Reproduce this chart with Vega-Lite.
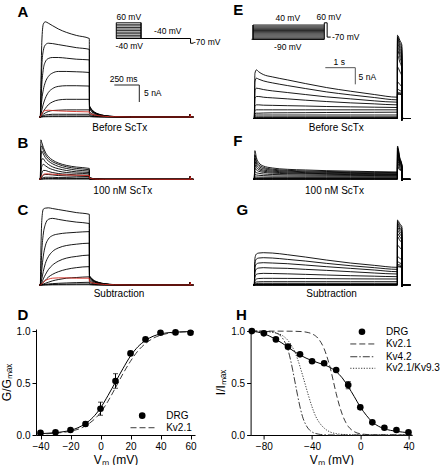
{
"$schema":"https://vega.github.io/schema/vega-lite/v6.json",
"background":"white",
"padding":{"left":0,"top":0,"right":0,"bottom":0},
"config":{"font":"Liberation Sans","view":{"stroke":null},
"axis":{"grid":false,"domainColor":"#000","tickColor":"#000","labelColor":"#000","titleColor":"#000","labelFontSize":10,"titleFontSize":12,"titleFontWeight":"normal","tickSize":4,"labelPadding":2,"titlePadding":3,"domainWidth":1,"tickWidth":1},
"text":{"color":"#000"}},
"datasets":{
"A":[
{"t":-10,"s1":0,"s2":0,"s3":0,"s4":0,"s5":0,"s6":0,"s7":0,"s8":0,"s9":0,"s10":0,"s11":0},
{"t":0,"s1":0,"s2":0,"s3":0,"s4":0,"s5":0,"s6":0,"s7":0,"s8":0,"s9":0,"s10":0,"s11":0},
{"t":6,"s1":9,"s2":6,"s3":4,"s4":2,"s5":0.8,"s6":0.3,"s7":0.1,"s8":0.05,"s9":0.02,"s10":0,"s11":0.4},
{"t":15,"s1":22,"s2":15,"s3":9.5,"s4":5,"s5":2,"s6":0.8,"s7":0.4,"s8":0.2,"s9":0.08,"s10":0.02,"s11":1.0},
{"t":30,"s1":27.3,"s2":19.5,"s3":14,"s4":8,"s5":3.8,"s6":1.6,"s7":0.8,"s8":0.4,"s9":0.15,"s10":0.05,"s11":1.6},
{"t":50,"s1":28,"s2":21.2,"s3":16.2,"s4":10.2,"s5":5.5,"s6":2.5,"s7":1.2,"s8":0.6,"s9":0.22,"s10":0.07,"s11":1.9},
{"t":80,"s1":27.6,"s2":21.7,"s3":17.2,"s4":11.9,"s5":7.2,"s6":3.6,"s7":1.6,"s8":0.7,"s9":0.28,"s10":0.09,"s11":2.0},
{"t":120,"s1":26.9,"s2":21.6,"s3":17.5,"s4":12.9,"s5":8.3,"s6":4.4,"s7":1.9,"s8":0.8,"s9":0.3,"s10":0.1,"s11":1.9},
{"t":180,"s1":25.9,"s2":21.3,"s3":17.5,"s4":13.4,"s5":9.0,"s6":5.0,"s7":2.0,"s8":0.8,"s9":0.3,"s10":0.1,"s11":1.8},
{"t":260,"s1":24.9,"s2":20.9,"s3":17.3,"s4":13.4,"s5":9.2,"s6":5.2,"s7":2.1,"s8":0.8,"s9":0.3,"s10":0.1,"s11":1.7},
{"t":360,"s1":24.0,"s2":20.4,"s3":17.0,"s4":13.3,"s5":9.2,"s6":5.2,"s7":2.1,"s8":0.8,"s9":0.3,"s10":0.1,"s11":1.6},
{"t":490,"s1":23.1,"s2":19.9,"s3":16.8,"s4":13.1,"s5":9.1,"s6":5.2,"s7":2.1,"s8":0.8,"s9":0.3,"s10":0.1,"s11":1.5},
{"t":492,"s1":3.4,"s2":3.2,"s3":3.0,"s4":2.7,"s5":2.3,"s6":1.6,"s7":1.0,"s8":0.5,"s9":0.25,"s10":0.1,"s11":1.2},
{"t":500,"s1":2.9,"s2":2.7,"s3":2.5,"s4":2.3,"s5":1.9,"s6":1.3,"s7":0.8,"s8":0.4,"s9":0.2,"s10":0.08,"s11":1.0},
{"t":515,"s1":2.2,"s2":2.1,"s3":1.9,"s4":1.7,"s5":1.5,"s6":1.0,"s7":0.6,"s8":0.3,"s9":0.15,"s10":0.06,"s11":0.8},
{"t":540,"s1":1.5,"s2":1.4,"s3":1.3,"s4":1.2,"s5":1.0,"s6":0.7,"s7":0.4,"s8":0.2,"s9":0.1,"s10":0.04,"s11":0.6},
{"t":580,"s1":0.9,"s2":0.85,"s3":0.8,"s4":0.7,"s5":0.6,"s6":0.4,"s7":0.25,"s8":0.12,"s9":0.06,"s10":0.02,"s11":0.4},
{"t":640,"s1":0.45,"s2":0.4,"s3":0.38,"s4":0.33,"s5":0.3,"s6":0.2,"s7":0.12,"s8":0.06,"s9":0.03,"s10":0.01,"s11":0.2},
{"t":740,"s1":0.15,"s2":0.13,"s3":0.12,"s4":0.1,"s5":0.1,"s6":0.06,"s7":0.04,"s8":0.02,"s9":0,"s10":0,"s11":0.07},
{"t":900,"s1":0,"s2":0,"s3":0,"s4":0,"s5":0,"s6":0,"s7":0,"s8":0,"s9":0,"s10":0,"s11":0},
{"t":1497,"s1":0,"s2":0,"s3":0,"s4":0,"s5":0,"s6":0,"s7":0,"s8":0,"s9":0,"s10":0,"s11":0},
{"t":1500,"s1":0.8,"s2":0.8,"s3":0.8,"s4":0.8,"s5":0.8,"s6":0.8,"s7":0.8,"s8":0.8,"s9":0.8,"s10":0.8,"s11":0.8},
{"t":1503,"s1":0,"s2":0,"s3":0,"s4":0,"s5":0,"s6":0,"s7":0,"s8":0,"s9":0,"s10":0,"s11":0},
{"t":1530,"s1":0,"s2":0,"s3":0,"s4":0,"s5":0,"s6":0,"s7":0,"s8":0,"s9":0,"s10":0,"s11":0}],
"B":[
{"t":-10,"s1":0,"s2":0,"s3":0,"s4":0,"s5":0,"s6":0,"s7":0,"s8":0,"s9":0,"s10":0,"s11":0},
{"t":0,"s1":0,"s2":0,"s3":0,"s4":0,"s5":0,"s6":0,"s7":0,"s8":0,"s9":0,"s10":0,"s11":0},
{"t":6,"s1":11.6,"s2":9.5,"s3":6,"s4":3.5,"s5":1.8,"s6":0.8,"s7":0.3,"s8":0.1,"s9":0.05,"s10":0,"s11":0.5},
{"t":15,"s1":10.8,"s2":9.8,"s3":8.3,"s4":6.0,"s5":3.8,"s6":1.8,"s7":0.7,"s8":0.3,"s9":0.1,"s10":0.03,"s11":1.0},
{"t":30,"s1":9.4,"s2":8.5,"s3":7.5,"s4":6.0,"s5":4.4,"s6":2.6,"s7":1.2,"s8":0.5,"s9":0.2,"s10":0.05,"s11":1.4},
{"t":50,"s1":8.0,"s2":7.3,"s3":6.4,"s4":5.2,"s5":4.0,"s6":2.6,"s7":1.4,"s8":0.6,"s9":0.25,"s10":0.07,"s11":1.6},
{"t":80,"s1":6.7,"s2":6.1,"s3":5.4,"s4":4.4,"s5":3.4,"s6":2.3,"s7":1.4,"s8":0.6,"s9":0.25,"s10":0.08,"s11":1.6},
{"t":120,"s1":5.7,"s2":5.2,"s3":4.6,"s4":3.7,"s5":2.9,"s6":2.0,"s7":1.3,"s8":0.6,"s9":0.25,"s10":0.08,"s11":1.5},
{"t":180,"s1":4.8,"s2":4.4,"s3":3.8,"s4":3.1,"s5":2.4,"s6":1.7,"s7":1.1,"s8":0.5,"s9":0.2,"s10":0.08,"s11":1.4},
{"t":260,"s1":4.1,"s2":3.7,"s3":3.2,"s4":2.6,"s5":2.0,"s6":1.5,"s7":1.0,"s8":0.5,"s9":0.2,"s10":0.08,"s11":1.3},
{"t":360,"s1":3.6,"s2":3.2,"s3":2.7,"s4":2.2,"s5":1.8,"s6":1.3,"s7":0.9,"s8":0.4,"s9":0.2,"s10":0.08,"s11":1.2},
{"t":490,"s1":3.2,"s2":2.8,"s3":2.4,"s4":2.0,"s5":1.6,"s6":1.2,"s7":0.8,"s8":0.4,"s9":0.2,"s10":0.08,"s11":1.1},
{"t":492,"s1":0.6,"s2":0.5,"s3":0.45,"s4":0.4,"s5":0.3,"s6":0.2,"s7":0.15,"s8":0.08,"s9":0.04,"s10":0.02,"s11":0.3},
{"t":500,"s1":0.45,"s2":0.4,"s3":0.35,"s4":0.3,"s5":0.25,"s6":0.15,"s7":0.1,"s8":0.06,"s9":0.03,"s10":0.01,"s11":0.25},
{"t":515,"s1":0.3,"s2":0.27,"s3":0.24,"s4":0.2,"s5":0.16,"s6":0.1,"s7":0.07,"s8":0.04,"s9":0.02,"s10":0,"s11":0.15},
{"t":540,"s1":0.15,"s2":0.13,"s3":0.12,"s4":0.1,"s5":0.08,"s6":0.05,"s7":0.03,"s8":0.02,"s9":0,"s10":0,"s11":0.08},
{"t":580,"s1":0.06,"s2":0.05,"s3":0.05,"s4":0.04,"s5":0.03,"s6":0.02,"s7":0.01,"s8":0,"s9":0,"s10":0,"s11":0.03},
{"t":640,"s1":0,"s2":0,"s3":0,"s4":0,"s5":0,"s6":0,"s7":0,"s8":0,"s9":0,"s10":0,"s11":0},
{"t":1497,"s1":0,"s2":0,"s3":0,"s4":0,"s5":0,"s6":0,"s7":0,"s8":0,"s9":0,"s10":0,"s11":0},
{"t":1500,"s1":0.8,"s2":0.8,"s3":0.8,"s4":0.8,"s5":0.8,"s6":0.8,"s7":0.8,"s8":0.8,"s9":0.8,"s10":0.8,"s11":0.8},
{"t":1503,"s1":0,"s2":0,"s3":0,"s4":0,"s5":0,"s6":0,"s7":0,"s8":0,"s9":0,"s10":0,"s11":0},
{"t":1530,"s1":0,"s2":0,"s3":0,"s4":0,"s5":0,"s6":0,"s7":0,"s8":0,"s9":0,"s10":0,"s11":0}],
"C":[
{"t":-10,"s1":0,"s2":0,"s3":0,"s4":0,"s5":0,"s6":0,"s7":0,"s8":0,"s9":0,"s10":0,"s11":0},
{"t":0,"s1":0,"s2":0,"s3":0,"s4":0,"s5":0,"s6":0,"s7":0,"s8":0,"s9":0,"s10":0,"s11":0},
{"t":6,"s1":10,"s2":4,"s3":1.5,"s4":0.5,"s5":0.2,"s6":0.05,"s7":0,"s8":0,"s9":0,"s10":0,"s11":0.05},
{"t":15,"s1":19,"s2":10,"s3":4.5,"s4":1.8,"s5":0.7,"s6":0.3,"s7":0.1,"s8":0.03,"s9":0.01,"s10":0,"s11":0.3},
{"t":30,"s1":22.3,"s2":15,"s3":8.5,"s4":4,"s5":1.8,"s6":0.8,"s7":0.3,"s8":0.1,"s9":0.03,"s10":0.01,"s11":0.8},
{"t":50,"s1":22.6,"s2":17.8,"s3":11.5,"s4":6.3,"s5":3.0,"s6":1.4,"s7":0.5,"s8":0.2,"s9":0.06,"s10":0.02,"s11":1.3},
{"t":80,"s1":22.7,"s2":19.3,"s3":13.5,"s4":8.3,"s5":4.5,"s6":2.3,"s7":0.8,"s8":0.3,"s9":0.1,"s10":0.03,"s11":1.7},
{"t":120,"s1":22.5,"s2":19.6,"s3":14.5,"s4":9.8,"s5":5.8,"s6":3.1,"s7":1.2,"s8":0.4,"s9":0.15,"s10":0.04,"s11":2.0},
{"t":180,"s1":22.2,"s2":19.3,"s3":15.0,"s4":10.9,"s5":7.0,"s6":3.9,"s7":1.6,"s8":0.5,"s9":0.2,"s10":0.05,"s11":2.1},
{"t":260,"s1":21.8,"s2":18.9,"s3":15.3,"s4":11.6,"s5":7.9,"s6":4.6,"s7":2.0,"s8":0.6,"s9":0.25,"s10":0.06,"s11":2.1},
{"t":360,"s1":21.3,"s2":18.5,"s3":15.5,"s4":12.0,"s5":8.4,"s6":5.1,"s7":2.2,"s8":0.7,"s9":0.3,"s10":0.07,"s11":2.0},
{"t":490,"s1":20.8,"s2":18.1,"s3":15.7,"s4":12.3,"s5":8.8,"s6":5.4,"s7":2.4,"s8":0.8,"s9":0.3,"s10":0.08,"s11":2.0},
{"t":492,"s1":2.8,"s2":2.7,"s3":2.5,"s4":2.2,"s5":1.8,"s6":1.3,"s7":0.8,"s8":0.4,"s9":0.2,"s10":0.05,"s11":1.0},
{"t":500,"s1":2.4,"s2":2.3,"s3":2.1,"s4":1.9,"s5":1.5,"s6":1.1,"s7":0.65,"s8":0.32,"s9":0.16,"s10":0.04,"s11":0.85},
{"t":515,"s1":1.9,"s2":1.8,"s3":1.65,"s4":1.5,"s5":1.2,"s6":0.85,"s7":0.5,"s8":0.25,"s9":0.12,"s10":0.03,"s11":0.65},
{"t":540,"s1":1.3,"s2":1.2,"s3":1.1,"s4":1.0,"s5":0.85,"s6":0.6,"s7":0.35,"s8":0.17,"s9":0.08,"s10":0.02,"s11":0.5},
{"t":580,"s1":0.8,"s2":0.75,"s3":0.7,"s4":0.62,"s5":0.52,"s6":0.36,"s7":0.22,"s8":0.1,"s9":0.05,"s10":0.01,"s11":0.32},
{"t":640,"s1":0.4,"s2":0.36,"s3":0.33,"s4":0.3,"s5":0.26,"s6":0.18,"s7":0.1,"s8":0.05,"s9":0.02,"s10":0,"s11":0.16},
{"t":740,"s1":0.12,"s2":0.11,"s3":0.1,"s4":0.09,"s5":0.08,"s6":0.05,"s7":0.03,"s8":0.01,"s9":0,"s10":0,"s11":0.05},
{"t":900,"s1":0,"s2":0,"s3":0,"s4":0,"s5":0,"s6":0,"s7":0,"s8":0,"s9":0,"s10":0,"s11":0},
{"t":1497,"s1":0,"s2":0,"s3":0,"s4":0,"s5":0,"s6":0,"s7":0,"s8":0,"s9":0,"s10":0,"s11":0},
{"t":1500,"s1":0.8,"s2":0.8,"s3":0.8,"s4":0.8,"s5":0.8,"s6":0.8,"s7":0.8,"s8":0.8,"s9":0.8,"s10":0.8,"s11":0.8},
{"t":1503,"s1":0,"s2":0,"s3":0,"s4":0,"s5":0,"s6":0,"s7":0,"s8":0,"s9":0,"s10":0,"s11":0},
{"t":1530,"s1":0,"s2":0,"s3":0,"s4":0,"s5":0,"s6":0,"s7":0,"s8":0,"s9":0,"s10":0,"s11":0}],
"E":[
{"t":-0.03,"s1":0,"s2":0,"s3":0,"s4":0,"s5":0,"s6":0,"s7":0,"s8":0,"s9":0,"s10":0,"s11":0,"s12":0,"s13":0,"s14":0},
{"t":0,"s1":0,"s2":0,"s3":0,"s4":0,"s5":0,"s6":0,"s7":0,"s8":0,"s9":0,"s10":0,"s11":0,"s12":0,"s13":0,"s14":0},
{"t":0.02,"s1":13.5,"s2":11.0,"s3":8.4,"s4":6.1,"s5":3.8,"s6":2.4,"s7":1.5,"s8":1.0,"s9":0.5,"s10":0.25,"s11":0.12,"s12":0.05,"s13":0,"s14":0},
{"t":0.07,"s1":14.6,"s2":12.1,"s3":9.1,"s4":6.6,"s5":4.1,"s6":2.6,"s7":1.6,"s8":1.05,"s9":0.5,"s10":0.25,"s11":0.12,"s12":0.05,"s13":0,"s14":0},
{"t":0.15,"s1":14.0,"s2":11.8,"s3":9.0,"s4":6.6,"s5":4.1,"s6":2.6,"s7":1.6,"s8":1.05,"s9":0.5,"s10":0.25,"s11":0.12,"s12":0.05,"s13":0,"s14":0},
{"t":0.3,"s1":13.2,"s2":11.3,"s3":8.7,"s4":6.4,"s5":4.0,"s6":2.6,"s7":1.65,"s8":1.05,"s9":0.5,"s10":0.25,"s11":0.12,"s12":0.05,"s13":0,"s14":0},
{"t":0.6,"s1":12.5,"s2":10.7,"s3":8.3,"s4":6.2,"s5":3.95,"s6":2.6,"s7":1.7,"s8":1.05,"s9":0.5,"s10":0.25,"s11":0.12,"s12":0.05,"s13":0,"s14":0},
{"t":1.1,"s1":11.6,"s2":9.9,"s3":7.8,"s4":5.9,"s5":3.85,"s6":2.6,"s7":1.72,"s8":1.05,"s9":0.5,"s10":0.25,"s11":0.12,"s12":0.05,"s13":0,"s14":0},
{"t":1.7,"s1":10.5,"s2":9.0,"s3":7.2,"s4":5.5,"s5":3.75,"s6":2.6,"s7":1.75,"s8":1.05,"s9":0.5,"s10":0.25,"s11":0.12,"s12":0.05,"s13":0,"s14":0},
{"t":2.4,"s1":9.3,"s2":8.0,"s3":6.5,"s4":5.1,"s5":3.6,"s6":2.6,"s7":1.8,"s8":1.05,"s9":0.5,"s10":0.25,"s11":0.12,"s12":0.05,"s13":0,"s14":0},
{"t":3.2,"s1":8.2,"s2":7.1,"s3":5.9,"s4":4.7,"s5":3.5,"s6":2.6,"s7":1.83,"s8":1.05,"s9":0.5,"s10":0.25,"s11":0.12,"s12":0.05,"s13":0,"s14":0},
{"t":4.0,"s1":7.2,"s2":6.3,"s3":5.3,"s4":4.4,"s5":3.4,"s6":2.6,"s7":1.86,"s8":1.05,"s9":0.5,"s10":0.25,"s11":0.12,"s12":0.05,"s13":0,"s14":0},
{"t":4.77,"s1":6.4,"s2":5.6,"s3":4.9,"s4":4.1,"s5":3.3,"s6":2.6,"s7":1.9,"s8":1.05,"s9":0.5,"s10":0.25,"s11":0.12,"s12":0.05,"s13":0,"s14":0},
{"t":4.772,"s1":7.3,"s2":7.5,"s3":7.9,"s4":8.8,"s5":11,"s6":15.5,"s7":19,"s8":20.5,"s9":21.5,"s10":22.5,"s11":23.3,"s12":24,"s13":24.5,"s14":25},
{"t":4.85,"s1":7.25,"s2":7.4,"s3":7.7,"s4":8.4,"s5":10.2,"s6":14.1,"s7":17.0,"s8":18.3,"s9":19.3,"s10":20.3,"s11":21.2,"s12":22.0,"s13":22.8,"s14":23.5},
{"t":4.92,"s1":7.2,"s2":7.3,"s3":7.5,"s4":8.0,"s5":9.5,"s6":12.6,"s7":15,"s8":16,"s9":17,"s10":18,"s11":19,"s12":20,"s13":21,"s14":22},
{"t":4.922,"s1":-0.5,"s2":-0.5,"s3":-0.5,"s4":-0.5,"s5":-0.5,"s6":-0.5,"s7":-0.5,"s8":-0.5,"s9":-0.5,"s10":-0.5,"s11":-0.5,"s12":-0.5,"s13":-0.5,"s14":-0.5},
{"t":4.94,"s1":-0.2,"s2":-0.2,"s3":-0.2,"s4":-0.2,"s5":-0.2,"s6":-0.2,"s7":-0.2,"s8":-0.2,"s9":-0.2,"s10":-0.2,"s11":-0.2,"s12":-0.2,"s13":-0.2,"s14":-0.2},
{"t":4.97,"s1":0,"s2":0,"s3":0,"s4":0,"s5":0,"s6":0,"s7":0,"s8":0,"s9":0,"s10":0,"s11":0,"s12":0,"s13":0,"s14":0},
{"t":5.2,"s1":0,"s2":0,"s3":0,"s4":0,"s5":0,"s6":0,"s7":0,"s8":0,"s9":0,"s10":0,"s11":0,"s12":0,"s13":0,"s14":0}],
"F":[
{"t":-0.03,"s1":0,"s2":0,"s3":0,"s4":0,"s5":0,"s6":0,"s7":0,"s8":0,"s9":0,"s10":0,"s11":0,"s12":0,"s13":0,"s14":0},
{"t":0,"s1":0,"s2":0,"s3":0,"s4":0,"s5":0,"s6":0,"s7":0,"s8":0,"s9":0,"s10":0,"s11":0,"s12":0,"s13":0,"s14":0},
{"t":0.02,"s1":8.6,"s2":7.3,"s3":6.3,"s4":5.3,"s5":4.3,"s6":3.3,"s7":2.3,"s8":1.4,"s9":0.7,"s10":0.35,"s11":0.2,"s12":0.1,"s13":0.05,"s14":0},
{"t":0.07,"s1":6.5,"s2":5.6,"s3":4.9,"s4":4.2,"s5":3.5,"s6":2.8,"s7":2.0,"s8":1.3,"s9":0.68,"s10":0.35,"s11":0.2,"s12":0.1,"s13":0.05,"s14":0},
{"t":0.15,"s1":5.0,"s2":4.4,"s3":3.9,"s4":3.4,"s5":2.9,"s6":2.4,"s7":1.8,"s8":1.2,"s9":0.66,"s10":0.35,"s11":0.2,"s12":0.1,"s13":0.05,"s14":0},
{"t":0.3,"s1":4.0,"s2":3.6,"s3":3.2,"s4":2.8,"s5":2.45,"s6":2.1,"s7":1.6,"s8":1.1,"s9":0.64,"s10":0.35,"s11":0.2,"s12":0.1,"s13":0.05,"s14":0},
{"t":0.6,"s1":3.4,"s2":3.05,"s3":2.75,"s4":2.45,"s5":2.15,"s6":1.85,"s7":1.45,"s8":1.0,"s9":0.62,"s10":0.35,"s11":0.2,"s12":0.1,"s13":0.05,"s14":0},
{"t":1.1,"s1":3.0,"s2":2.7,"s3":2.45,"s4":2.2,"s5":1.95,"s6":1.7,"s7":1.35,"s8":0.98,"s9":0.61,"s10":0.35,"s11":0.2,"s12":0.1,"s13":0.05,"s14":0},
{"t":1.7,"s1":2.8,"s2":2.5,"s3":2.25,"s4":2.0,"s5":1.8,"s6":1.6,"s7":1.28,"s8":0.95,"s9":0.6,"s10":0.35,"s11":0.2,"s12":0.1,"s13":0.05,"s14":0},
{"t":2.4,"s1":2.6,"s2":2.35,"s3":2.1,"s4":1.9,"s5":1.7,"s6":1.5,"s7":1.22,"s8":0.93,"s9":0.6,"s10":0.35,"s11":0.2,"s12":0.1,"s13":0.05,"s14":0},
{"t":3.2,"s1":2.45,"s2":2.2,"s3":2.0,"s4":1.8,"s5":1.6,"s6":1.42,"s7":1.17,"s8":0.92,"s9":0.6,"s10":0.35,"s11":0.2,"s12":0.1,"s13":0.05,"s14":0},
{"t":4.0,"s1":2.3,"s2":2.1,"s3":1.9,"s4":1.7,"s5":1.5,"s6":1.35,"s7":1.13,"s8":0.9,"s9":0.6,"s10":0.35,"s11":0.2,"s12":0.1,"s13":0.05,"s14":0},
{"t":4.77,"s1":2.2,"s2":2.0,"s3":1.8,"s4":1.6,"s5":1.45,"s6":1.3,"s7":1.1,"s8":0.9,"s9":0.6,"s10":0.35,"s11":0.2,"s12":0.1,"s13":0.05,"s14":0},
{"t":4.772,"s1":3.4,"s2":3.8,"s3":4.3,"s4":4.8,"s5":5.4,"s6":6.0,"s7":6.6,"s8":7.2,"s9":7.7,"s10":8.2,"s11":8.7,"s12":9.2,"s13":9.6,"s14":10.0},
{"t":4.85,"s1":2.8,"s2":3.0,"s3":3.3,"s4":3.6,"s5":4.0,"s6":4.3,"s7":4.6,"s8":4.9,"s9":5.2,"s10":5.4,"s11":5.7,"s12":6.0,"s13":6.2,"s14":6.5},
{"t":4.92,"s1":2.5,"s2":2.6,"s3":2.8,"s4":3.0,"s5":3.2,"s6":3.4,"s7":3.6,"s8":3.7,"s9":3.8,"s10":3.9,"s11":4.0,"s12":4.1,"s13":4.2,"s14":4.3},
{"t":4.922,"s1":-0.3,"s2":-0.3,"s3":-0.3,"s4":-0.3,"s5":-0.3,"s6":-0.3,"s7":-0.3,"s8":-0.3,"s9":-0.3,"s10":-0.3,"s11":-0.3,"s12":-0.3,"s13":-0.3,"s14":-0.3},
{"t":4.94,"s1":-0.1,"s2":-0.1,"s3":-0.1,"s4":-0.1,"s5":-0.1,"s6":-0.1,"s7":-0.1,"s8":-0.1,"s9":-0.1,"s10":-0.1,"s11":-0.1,"s12":-0.1,"s13":-0.1,"s14":-0.1},
{"t":4.97,"s1":0,"s2":0,"s3":0,"s4":0,"s5":0,"s6":0,"s7":0,"s8":0,"s9":0,"s10":0,"s11":0,"s12":0,"s13":0,"s14":0},
{"t":5.2,"s1":0,"s2":0,"s3":0,"s4":0,"s5":0,"s6":0,"s7":0,"s8":0,"s9":0,"s10":0,"s11":0,"s12":0,"s13":0,"s14":0}],
"G":[
{"t":-0.03,"s1":0,"s2":0,"s3":0,"s4":0,"s5":0,"s6":0,"s7":0,"s8":0,"s9":0,"s10":0,"s11":0,"s12":0,"s13":0,"s14":0},
{"t":0,"s1":0,"s2":0,"s3":0,"s4":0,"s5":0,"s6":0,"s7":0,"s8":0,"s9":0,"s10":0,"s11":0,"s12":0,"s13":0,"s14":0},
{"t":0.02,"s1":8.0,"s2":6.5,"s3":5.2,"s4":3.8,"s5":2.4,"s6":1.2,"s7":0.6,"s8":0.3,"s9":0.2,"s10":0.1,"s11":0.05,"s12":0.02,"s13":0,"s14":0},
{"t":0.07,"s1":9.3,"s2":7.8,"s3":6.3,"s4":4.8,"s5":3.2,"s6":1.8,"s7":0.9,"s8":0.45,"s9":0.2,"s10":0.1,"s11":0.05,"s12":0.02,"s13":0,"s14":0},
{"t":0.15,"s1":9.6,"s2":8.1,"s3":6.6,"s4":5.1,"s5":3.4,"s6":1.95,"s7":0.97,"s8":0.5,"s9":0.2,"s10":0.1,"s11":0.05,"s12":0.02,"s13":0,"s14":0},
{"t":0.3,"s1":9.7,"s2":8.2,"s3":6.7,"s4":5.2,"s5":3.5,"s6":2.0,"s7":1.0,"s8":0.5,"s9":0.2,"s10":0.1,"s11":0.05,"s12":0.02,"s13":0,"s14":0},
{"t":0.6,"s1":9.6,"s2":8.1,"s3":6.6,"s4":5.1,"s5":3.45,"s6":2.0,"s7":1.0,"s8":0.5,"s9":0.2,"s10":0.1,"s11":0.05,"s12":0.02,"s13":0,"s14":0},
{"t":1.1,"s1":9.1,"s2":7.7,"s3":6.4,"s4":5.0,"s5":3.35,"s6":1.98,"s7":1.0,"s8":0.5,"s9":0.2,"s10":0.1,"s11":0.05,"s12":0.02,"s13":0,"s14":0},
{"t":1.7,"s1":8.4,"s2":7.2,"s3":6.0,"s4":4.7,"s5":3.2,"s6":1.95,"s7":1.0,"s8":0.5,"s9":0.2,"s10":0.1,"s11":0.05,"s12":0.02,"s13":0,"s14":0},
{"t":2.4,"s1":7.5,"s2":6.5,"s3":5.5,"s4":4.4,"s5":3.0,"s6":1.9,"s7":1.0,"s8":0.5,"s9":0.2,"s10":0.1,"s11":0.05,"s12":0.02,"s13":0,"s14":0},
{"t":3.2,"s1":6.6,"s2":5.8,"s3":5.0,"s4":4.0,"s5":2.8,"s6":1.85,"s7":1.0,"s8":0.5,"s9":0.2,"s10":0.1,"s11":0.05,"s12":0.02,"s13":0,"s14":0},
{"t":4.0,"s1":5.9,"s2":5.2,"s3":4.5,"s4":3.6,"s5":2.65,"s6":1.82,"s7":1.0,"s8":0.5,"s9":0.2,"s10":0.1,"s11":0.05,"s12":0.02,"s13":0,"s14":0},
{"t":4.77,"s1":5.3,"s2":4.7,"s3":4.0,"s4":3.3,"s5":2.5,"s6":1.8,"s7":1.0,"s8":0.5,"s9":0.2,"s10":0.1,"s11":0.05,"s12":0.02,"s13":0,"s14":0},
{"t":4.772,"s1":5.5,"s2":5.8,"s3":6.2,"s4":7.0,"s5":8.5,"s6":12.0,"s7":14.5,"s8":15.5,"s9":16.5,"s10":17.3,"s11":18.0,"s12":18.5,"s13":19.0,"s14":19.5},
{"t":4.85,"s1":5.4,"s2":5.6,"s3":6.0,"s4":6.6,"s5":8.0,"s6":11.2,"s7":13.4,"s8":14.4,"s9":15.3,"s10":16.1,"s11":16.8,"s12":17.3,"s13":17.9,"s14":18.4},
{"t":4.92,"s1":5.3,"s2":5.5,"s3":5.8,"s4":6.3,"s5":7.5,"s6":10.5,"s7":12.5,"s8":13.5,"s9":14.3,"s10":15.0,"s11":15.8,"s12":16.3,"s13":17.0,"s14":17.5},
{"t":4.922,"s1":-0.4,"s2":-0.4,"s3":-0.4,"s4":-0.4,"s5":-0.4,"s6":-0.4,"s7":-0.4,"s8":-0.4,"s9":-0.4,"s10":-0.4,"s11":-0.4,"s12":-0.4,"s13":-0.4,"s14":-0.4},
{"t":4.94,"s1":-0.15,"s2":-0.15,"s3":-0.15,"s4":-0.15,"s5":-0.15,"s6":-0.15,"s7":-0.15,"s8":-0.15,"s9":-0.15,"s10":-0.15,"s11":-0.15,"s12":-0.15,"s13":-0.15,"s14":-0.15},
{"t":4.97,"s1":0,"s2":0,"s3":0,"s4":0,"s5":0,"s6":0,"s7":0,"s8":0,"s9":0,"s10":0,"s11":0,"s12":0,"s13":0,"s14":0},
{"t":5.2,"s1":0,"s2":0,"s3":0,"s4":0,"s5":0,"s6":0,"s7":0,"s8":0,"s9":0,"s10":0,"s11":0,"s12":0,"s13":0,"s14":0}],
"pointsD":[{"vm":-40,"norm":0.022},{"vm":-30,"norm":0.026},{"vm":-20,"norm":0.048},{"vm":-10,"norm":0.106},{"vm":0,"norm":0.253},{"vm":10,"norm":0.519},{"vm":20,"norm":0.785},{"vm":30,"norm":0.92},{"vm":40,"norm":0.984},{"vm":50,"norm":0.987},{"vm":60,"norm":0.984}],
"errD":[{"vm":-10,"norm":0.086,"norm2":0.126},{"vm":0,"norm":0.19,"norm2":0.316},{"vm":10,"norm":0.45,"norm2":0.59},{"vm":20,"norm":0.765,"norm2":0.805}],
"capsD":[{"vm":-10,"norm":0.086},{"vm":-10,"norm":0.126},{"vm":0,"norm":0.19},{"vm":0,"norm":0.316},{"vm":10,"norm":0.45},{"vm":10,"norm":0.59},{"vm":20,"norm":0.765},{"vm":20,"norm":0.805}],
"fitDdrg":[{"vm":-42,"norm":0.012},{"vm":-40,"norm":0.013},{"vm":-35,"norm":0.017},{"vm":-30,"norm":0.022},{"vm":-25,"norm":0.031},{"vm":-20,"norm":0.045},{"vm":-15,"norm":0.07},{"vm":-10,"norm":0.11},{"vm":-5,"norm":0.17},{"vm":0,"norm":0.26},{"vm":5,"norm":0.38},{"vm":10,"norm":0.51},{"vm":15,"norm":0.64},{"vm":20,"norm":0.76},{"vm":25,"norm":0.85},{"vm":30,"norm":0.91},{"vm":35,"norm":0.95},{"vm":40,"norm":0.972},{"vm":45,"norm":0.984},{"vm":50,"norm":0.99},{"vm":55,"norm":0.993},{"vm":60,"norm":0.995},{"vm":62,"norm":0.995}],
"fitDkv21":[{"vm":-42,"norm":0.009},{"vm":-40,"norm":0.01},{"vm":-35,"norm":0.013},{"vm":-30,"norm":0.018},{"vm":-25,"norm":0.025},{"vm":-20,"norm":0.036},{"vm":-15,"norm":0.055},{"vm":-10,"norm":0.088},{"vm":-5,"norm":0.14},{"vm":0,"norm":0.215},{"vm":5,"norm":0.325},{"vm":10,"norm":0.455},{"vm":15,"norm":0.59},{"vm":20,"norm":0.71},{"vm":25,"norm":0.81},{"vm":30,"norm":0.88},{"vm":35,"norm":0.93},{"vm":40,"norm":0.96},{"vm":45,"norm":0.978},{"vm":50,"norm":0.987},{"vm":55,"norm":0.992},{"vm":60,"norm":0.994},{"vm":62,"norm":0.995}],
"pointsH":[{"vm":-90,"norm":1.0},{"vm":-80,"norm":0.978},{"vm":-70,"norm":0.92},{"vm":-60,"norm":0.85},{"vm":-50,"norm":0.776},{"vm":-40,"norm":0.71},{"vm":-30,"norm":0.69},{"vm":-20,"norm":0.625},{"vm":-10,"norm":0.48},{"vm":0,"norm":0.266},{"vm":10,"norm":0.122},{"vm":20,"norm":0.07},{"vm":30,"norm":0.048},{"vm":40,"norm":0.026}],
"errH":[{"vm":-60,"norm":0.83,"norm2":0.87},{"vm":-10,"norm":0.445,"norm2":0.515},{"vm":0,"norm":0.246,"norm2":0.286}],
"capsH":[{"vm":-60,"norm":0.83},{"vm":-60,"norm":0.87},{"vm":-10,"norm":0.445},{"vm":-10,"norm":0.515},{"vm":0,"norm":0.246},{"vm":0,"norm":0.286}],
"fitHdrg":[{"vm":-90,"norm":1.0},{"vm":-85,"norm":0.99},{"vm":-80,"norm":0.975},{"vm":-75,"norm":0.95},{"vm":-70,"norm":0.92},{"vm":-65,"norm":0.885},{"vm":-60,"norm":0.845},{"vm":-55,"norm":0.805},{"vm":-50,"norm":0.77},{"vm":-45,"norm":0.74},{"vm":-40,"norm":0.715},{"vm":-35,"norm":0.695},{"vm":-30,"norm":0.675},{"vm":-25,"norm":0.65},{"vm":-20,"norm":0.61},{"vm":-15,"norm":0.55},{"vm":-10,"norm":0.465},{"vm":-5,"norm":0.37},{"vm":0,"norm":0.27},{"vm":5,"norm":0.19},{"vm":10,"norm":0.125},{"vm":15,"norm":0.085},{"vm":20,"norm":0.06},{"vm":25,"norm":0.045},{"vm":30,"norm":0.035},{"vm":35,"norm":0.028},{"vm":40,"norm":0.022}],
"fitHkv21":[{"vm":-91,"norm":1.0},{"vm":-60,"norm":0.999},{"vm":-50,"norm":0.996},{"vm":-45,"norm":0.99},{"vm":-40,"norm":0.973},{"vm":-35,"norm":0.93},{"vm":-30,"norm":0.83},{"vm":-27,"norm":0.73},{"vm":-25,"norm":0.65},{"vm":-22,"norm":0.5},{"vm":-20,"norm":0.4},{"vm":-17,"norm":0.27},{"vm":-15,"norm":0.2},{"vm":-12,"norm":0.12},{"vm":-10,"norm":0.083},{"vm":-5,"norm":0.032},{"vm":0,"norm":0.012},{"vm":10,"norm":0.002},{"vm":43,"norm":0}],
"fitHkv42":[{"vm":-91,"norm":1.0},{"vm":-75,"norm":0.995},{"vm":-70,"norm":0.982},{"vm":-65,"norm":0.94},{"vm":-62,"norm":0.88},{"vm":-60,"norm":0.82},{"vm":-58,"norm":0.73},{"vm":-56,"norm":0.62},{"vm":-54,"norm":0.5},{"vm":-52,"norm":0.38},{"vm":-50,"norm":0.27},{"vm":-48,"norm":0.18},{"vm":-45,"norm":0.095},{"vm":-42,"norm":0.047},{"vm":-40,"norm":0.029},{"vm":-35,"norm":0.009},{"vm":-30,"norm":0.0025},{"vm":-20,"norm":0},{"vm":43,"norm":0}],
"fitHkv93":[{"vm":-91,"norm":1.0},{"vm":-75,"norm":0.992},{"vm":-70,"norm":0.982},{"vm":-65,"norm":0.96},{"vm":-60,"norm":0.91},{"vm":-56,"norm":0.84},{"vm":-52,"norm":0.73},{"vm":-49,"norm":0.62},{"vm":-46,"norm":0.5},{"vm":-43,"norm":0.38},{"vm":-40,"norm":0.27},{"vm":-37,"norm":0.18},{"vm":-34,"norm":0.12},{"vm":-30,"norm":0.067},{"vm":-25,"norm":0.029},{"vm":-20,"norm":0.013},{"vm":-10,"norm":0.0025},{"vm":0,"norm":0.0005},{"vm":43,"norm":0}]
},
"columns":2,
"spacing":{"row":0,"column":55.6},
"bounds":"flush",
"concat":[
{"width":159,"height":135,
 "resolve":{"scale":{"x":"independent","y":"independent"}},
 "layer":[
  {"encoding":{"x":{"field":"t","type":"quantitative","scale":{"domain":[-43,1547],"nice":false,"zero":false},"axis":null},
               "y":{"field":"nA","type":"quantitative","scale":{"domain":[-5.294,34.412],"nice":false,"zero":false},"axis":null}},
   "layer":[
    {"data":{"name":"A"},"transform":[{"fold":["s1","s2","s3","s4","s5","s6","s7","s8","s9","s10","s11"],"as":["sweep","nA"]}],
     "mark":{"type":"line","strokeWidth":0.9,"interpolate":"monotone"},
     "encoding":{"color":{"field":"sweep","type":"nominal","scale":{"domain":["s1","s2","s3","s4","s5","s6","s7","s8","s9","s10","s11"],"range":["#000","#000","#000","#000","#000","#000","#000","#000","#000","#000","#d42a20"]},"legend":null}}},
    {"data":{"values":[{"i":1,"t":740,"nA":9.41},{"i":2,"t":990,"nA":9.41},{"i":3,"t":990,"nA":4.41}]},
     "mark":{"type":"line","color":"#222","strokeWidth":1},"encoding":{"order":{"field":"i","type":"quantitative"}}},
    {"data":{"values":[{"t":833,"nA":11.24,"label":"250 ms"},{"t":1125,"nA":6.97,"label":"5 nA"}]},
     "mark":{"type":"text","fontSize":8.5},"encoding":{"text":{"field":"label"}}},
    {"data":{"values":[{"t":795,"nA":-3.24,"label":"Before ScTx"}]},
     "mark":{"type":"text","fontSize":10},"encoding":{"text":{"field":"label"}}},
    {"data":{"values":[{"t":-175,"nA":30.88,"label":"A"}]},
     "mark":{"type":"text","fontSize":15,"fontWeight":"bold"},"encoding":{"text":{"field":"label"}}}
   ]},
  {"encoding":{"x":{"field":"t","type":"quantitative","scale":{"domain":[-1622,1590],"nice":false,"zero":false},"axis":null},
               "y":{"field":"mV","type":"quantitative","scale":{"domain":[-650.76,203.67],"nice":false,"zero":false},"axis":null}},
   "layer":[
    {"data":{"values":[{"t":0,"t2":500,"mV":60},{"t":0,"t2":500,"mV":50},{"t":0,"t2":500,"mV":40},{"t":0,"t2":500,"mV":30},{"t":0,"t2":500,"mV":20},{"t":0,"t2":500,"mV":10},{"t":0,"t2":500,"mV":0},{"t":0,"t2":500,"mV":-10},{"t":0,"t2":500,"mV":-20},{"t":0,"t2":500,"mV":-30},{"t":0,"t2":500,"mV":-40}]},
     "mark":{"type":"rule","color":"#2a2a2a","strokeWidth":1},"encoding":{"x2":{"field":"t2"}}},
    {"data":{"values":[{"i":1,"t":0,"mV":60},{"i":2,"t":0,"mV":-40},{"i":3,"t":500,"mV":-40},{"i":4,"t":500,"mV":60},{"i":5,"t":500,"mV":-40},{"i":6,"t":1500,"mV":-40},{"i":7,"t":1500,"mV":-70},{"i":8,"t":1560,"mV":-70}]},
     "mark":{"type":"line","color":"#000","strokeWidth":1},"encoding":{"order":{"field":"i","type":"quantitative"}}},
    {"data":{"values":[{"t":253,"mV":99,"label":"60 mV"},{"t":263,"mV":-90.6,"label":"-40 mV"},{"t":1040,"mV":9.4,"label":"-40 mV"},{"t":1826,"mV":-62.2,"label":"-70 mV"}]},
     "mark":{"type":"text","fontSize":8.5},"encoding":{"text":{"field":"label"}}}
   ]}
 ]},
{"width":161.5,"height":135,
 "resolve":{"scale":{"x":"independent","y":"independent"}},
 "layer":[
  {"encoding":{"x":{"field":"t","type":"quantitative","scale":{"domain":[-0.1233,5.26],"nice":false,"zero":false},"axis":null},
               "y":{"field":"nA","type":"quantitative","scale":{"domain":[-4.955,35.586],"nice":false,"zero":false},"axis":null}},
   "layer":[
    {"data":{"name":"E"},"transform":[{"fold":["s1","s2","s3","s4","s5","s6","s7","s8","s9","s10","s11","s12","s13","s14"],"as":["sweep","nA"]}],
     "mark":{"type":"line","strokeWidth":0.9,"color":"#000","interpolate":"monotone"},
     "encoding":{"detail":{"field":"sweep","type":"nominal"}}},
    {"data":{"values":[{"i":1,"t":2.367,"nA":15.26},{"i":2,"t":3.367,"nA":15.26},{"i":3,"t":3.367,"nA":10.26}]},
     "mark":{"type":"line","color":"#555","strokeWidth":1},"encoding":{"order":{"field":"i","type":"quantitative"}}},
    {"data":{"values":[{"t":2.833,"nA":17.06,"label":"1 s"},{"t":3.767,"nA":12.55,"label":"5 nA"}]},
     "mark":{"type":"text","fontSize":8.5},"encoding":{"text":{"field":"label"}}},
    {"data":{"values":[{"t":2.733,"nA":-2.94,"label":"Before ScTx"}]},
     "mark":{"type":"text","fontSize":10},"encoding":{"text":{"field":"label"}}},
    {"data":{"values":[{"t":-0.533,"nA":32.58,"label":"E"}]},
     "mark":{"type":"text","fontSize":15,"fontWeight":"bold"},"encoding":{"text":{"field":"label"}}}
   ]},
  {"encoding":{"x":{"field":"t","type":"quantitative","scale":{"domain":[-0.1683,11.157],"nice":false,"zero":false},"axis":null},
               "y":{"field":"mV","type":"quantitative","scale":{"domain":[-960,267.27],"nice":false,"zero":false},"axis":null}},
   "layer":[
    {"data":{"values":[{"t":0,"t2":5,"mV":40},{"t":0,"t2":5,"mV":30},{"t":0,"t2":5,"mV":20},{"t":0,"t2":5,"mV":10},{"t":0,"t2":5,"mV":0},{"t":0,"t2":5,"mV":-10},{"t":0,"t2":5,"mV":-20},{"t":0,"t2":5,"mV":-30},{"t":0,"t2":5,"mV":-40},{"t":0,"t2":5,"mV":-50},{"t":0,"t2":5,"mV":-60},{"t":0,"t2":5,"mV":-70},{"t":0,"t2":5,"mV":-80},{"t":0,"t2":5,"mV":-90}]},
     "mark":{"type":"rule","color":"#2a2a2a","strokeWidth":1},"encoding":{"x2":{"field":"t2"}}},
    {"data":{"values":[{"i":1,"t":-0.1,"mV":-90},{"i":2,"t":0,"mV":-90},{"i":3,"t":0,"mV":40},{"i":4,"t":0,"mV":-90},{"i":5,"t":5,"mV":-90},{"i":6,"t":5,"mV":60},{"i":7,"t":5.2,"mV":60},{"i":8,"t":5.2,"mV":-70},{"i":9,"t":5.45,"mV":-70}]},
     "mark":{"type":"line","color":"#000","strokeWidth":1},"encoding":{"order":{"field":"i","type":"quantitative"}}},
    {"data":{"values":[{"t":2.44,"mV":100.9,"label":"40 mV"},{"t":2.44,"mV":-157.3,"label":"-90 mV"},{"t":5.316,"mV":115.5,"label":"60 mV"},{"t":6.5,"mV":-73.6,"label":"-70 mV"}]},
     "mark":{"type":"text","fontSize":8.5},"encoding":{"text":{"field":"label"}}}
   ]}
 ]},
{"width":159,"height":58,
 "encoding":{"x":{"field":"t","type":"quantitative","scale":{"domain":[-43,1547],"nice":false,"zero":false},"axis":null},
             "y":{"field":"nA","type":"quantitative","scale":{"domain":[-4.029,13.029],"nice":false,"zero":false},"axis":null}},
 "layer":[
  {"data":{"name":"B"},"transform":[{"fold":["s1","s2","s3","s4","s5","s6","s7","s8","s9","s10","s11"],"as":["sweep","nA"]}],
   "mark":{"type":"line","strokeWidth":0.9,"interpolate":"monotone"},
   "encoding":{"color":{"field":"sweep","type":"nominal","scale":{"domain":["s1","s2","s3","s4","s5","s6","s7","s8","s9","s10","s11"],"range":["#000","#000","#000","#000","#000","#000","#000","#000","#000","#000","#d42a20"]},"legend":null}}},
  {"data":{"values":[{"t":825,"nA":-3.38,"label":"100 nM ScTx"}]},
   "mark":{"type":"text","fontSize":10},"encoding":{"text":{"field":"label"}}},
  {"data":{"values":[{"t":-175,"nA":10.68,"label":"B"}]},
   "mark":{"type":"text","fontSize":15,"fontWeight":"bold"},"encoding":{"text":{"field":"label"}}}
 ]},
{"width":161.5,"height":58,
 "encoding":{"x":{"field":"t","type":"quantitative","scale":{"domain":[-0.1233,5.26],"nice":false,"zero":false},"axis":null},
             "y":{"field":"nA","type":"quantitative","scale":{"domain":[-4.114,13.303],"nice":false,"zero":false},"axis":null}},
 "layer":[
  {"data":{"name":"F"},"transform":[{"fold":["s1","s2","s3","s4","s5","s6","s7","s8","s9","s10","s11","s12","s13","s14"],"as":["sweep","nA"]}],
   "mark":{"type":"line","strokeWidth":0.9,"color":"#000","interpolate":"monotone"},
   "encoding":{"detail":{"field":"sweep","type":"nominal"}}},
  {"data":{"values":[{"t":2.673,"nA":-3.45,"label":"100 nM ScTx"}]},
   "mark":{"type":"text","fontSize":10},"encoding":{"text":{"field":"label"}}},
  {"data":{"values":[{"t":-0.55,"nA":11.5,"label":"F"}]},
   "mark":{"type":"text","fontSize":15,"fontWeight":"bold"},"encoding":{"text":{"field":"label"}}}
 ]},
{"width":159,"height":136,
 "encoding":{"x":{"field":"t","type":"quantitative","scale":{"domain":[-43,1547],"nice":false,"zero":false},"axis":null},
             "y":{"field":"nA","type":"quantitative","scale":{"domain":[-12.941,27.059],"nice":false,"zero":false},"axis":null}},
 "layer":[
  {"data":{"name":"C"},"transform":[{"fold":["s1","s2","s3","s4","s5","s6","s7","s8","s9","s10","s11"],"as":["sweep","nA"]}],
   "mark":{"type":"line","strokeWidth":0.9,"interpolate":"monotone"},
   "encoding":{"color":{"field":"sweep","type":"nominal","scale":{"domain":["s1","s2","s3","s4","s5","s6","s7","s8","s9","s10","s11"],"range":["#000","#000","#000","#000","#000","#000","#000","#000","#000","#000","#d42a20"]},"legend":null}}},
  {"data":{"values":[{"t":787,"nA":-2.7,"label":"Subtraction"}]},
   "mark":{"type":"text","fontSize":10},"encoding":{"text":{"field":"label"}}},
  {"data":{"values":[{"t":-175,"nA":22.06,"label":"C"}]},
   "mark":{"type":"text","fontSize":15,"fontWeight":"bold"},"encoding":{"text":{"field":"label"}}}
 ]},
{"width":161.5,"height":136,
 "encoding":{"x":{"field":"t","type":"quantitative","scale":{"domain":[-0.1233,5.26],"nice":false,"zero":false},"axis":null},
             "y":{"field":"nA","type":"quantitative","scale":{"domain":[-13.213,27.628],"nice":false,"zero":false},"axis":null}},
 "layer":[
  {"data":{"name":"G"},"transform":[{"fold":["s1","s2","s3","s4","s5","s6","s7","s8","s9","s10","s11","s12","s13","s14"],"as":["sweep","nA"]}],
   "mark":{"type":"line","strokeWidth":0.9,"color":"#000","interpolate":"monotone"},
   "encoding":{"detail":{"field":"sweep","type":"nominal"}}},
  {"data":{"values":[{"t":2.577,"nA":-2.76,"label":"Subtraction"}]},
   "mark":{"type":"text","fontSize":10},"encoding":{"text":{"field":"label"}}},
  {"data":{"values":[{"t":-0.4,"nA":22.52,"label":"G"}]},
   "mark":{"type":"text","fontSize":15,"fontWeight":"bold"},"encoding":{"text":{"field":"label"}}}
 ]},
{"width":159,"height":106,
 "encoding":{"x":{"field":"vm","type":"quantitative","scale":{"domain":[-43,63],"nice":false,"zero":false},"axis":{"title":"Vₘ (mV)","values":[-40,-20,0,20,40,60]}},
             "y":{"field":"norm","type":"quantitative","scale":{"domain":[0,1.02],"nice":false},"axis":{"title":"G/Gₘₐₓ","values":[0,0.5,1],"format":".1f"}}},
 "layer":[
  {"data":{"name":"fitDdrg"},"mark":{"type":"line","color":"#000","strokeWidth":1,"interpolate":"monotone"}},
  {"data":{"name":"fitDkv21"},"mark":{"type":"line","color":"#222","strokeWidth":0.9,"strokeDash":[6,3],"interpolate":"monotone"}},
  {"data":{"name":"errD"},"mark":{"type":"rule","color":"#000","strokeWidth":1},"encoding":{"y2":{"field":"norm2"}}},
  {"data":{"name":"capsD"},"mark":{"type":"tick","orient":"horizontal","size":5,"thickness":1,"color":"#000"}},
  {"data":{"name":"pointsD"},"mark":{"type":"circle","size":44,"color":"#000","opacity":1}},
  {"data":{"values":[{"vm":27.8,"norm":0.186}]},"mark":{"type":"circle","size":44,"color":"#000","opacity":1}},
  {"data":{"values":[{"vm":20,"vm2":36.7,"norm":0.07}]},"mark":{"type":"rule","color":"#222","strokeWidth":0.9,"strokeDash":[6,3]},"encoding":{"x2":{"field":"vm2"}}},
  {"data":{"values":[{"vm":43.8,"norm":0.186,"label":"DRG"},{"vm":43.8,"norm":0.07,"label":"Kv2.1"}]},"mark":{"type":"text","align":"left","fontSize":10},"encoding":{"text":{"field":"label"}}},
  {"data":{"values":[{"vm":-51.67,"norm":1.155,"label":"D"}]},"mark":{"type":"text","fontSize":15,"fontWeight":"bold"},"encoding":{"text":{"field":"label"}}}
 ]},
{"width":161.5,"height":106,
 "encoding":{"x":{"field":"vm","type":"quantitative","scale":{"domain":[-91,43],"nice":false,"zero":false},"axis":{"title":"Vₘ (mV)","values":[-80,-40,0,40]}},
             "y":{"field":"norm","type":"quantitative","scale":{"domain":[0,1.02],"nice":false},"axis":{"title":"I/Iₘₐₓ","values":[0,0.5,1],"format":".1f"}}},
 "layer":[
  {"data":{"name":"fitHdrg"},"mark":{"type":"line","color":"#000","strokeWidth":1,"interpolate":"monotone"}},
  {"data":{"name":"fitHkv21"},"mark":{"type":"line","color":"#222","strokeWidth":0.9,"strokeDash":[6,3],"interpolate":"monotone"}},
  {"data":{"name":"fitHkv42"},"mark":{"type":"line","color":"#222","strokeWidth":0.9,"strokeDash":[7,2,1.5,2],"interpolate":"monotone"}},
  {"data":{"name":"fitHkv93"},"mark":{"type":"line","color":"#222","strokeWidth":0.9,"strokeDash":[1.2,1.5],"interpolate":"monotone"}},
  {"data":{"name":"errH"},"mark":{"type":"rule","color":"#000","strokeWidth":1},"encoding":{"y2":{"field":"norm2"}}},
  {"data":{"name":"capsH"},"mark":{"type":"tick","orient":"horizontal","size":5,"thickness":1,"color":"#000"}},
  {"data":{"name":"pointsH"},"mark":{"type":"circle","size":44,"color":"#000","opacity":1}},
  {"data":{"values":[{"vm":1.41,"norm":0.994}]},"mark":{"type":"circle","size":44,"color":"#000","opacity":1}},
  {"data":{"values":[{"vm":-8.29,"vm2":12.44,"norm":0.876}]},"mark":{"type":"rule","color":"#222","strokeWidth":0.9,"strokeDash":[6,3]},"encoding":{"x2":{"field":"vm2"}}},
  {"data":{"values":[{"vm":-8.29,"vm2":12.44,"norm":0.753}]},"mark":{"type":"rule","color":"#222","strokeWidth":0.9,"strokeDash":[7,2,1.5,2]},"encoding":{"x2":{"field":"vm2"}}},
  {"data":{"values":[{"vm":-8.29,"vm2":12.44,"norm":0.642}]},"mark":{"type":"rule","color":"#222","strokeWidth":0.9,"strokeDash":[1.2,1.5]},"encoding":{"x2":{"field":"vm2"}}},
  {"data":{"values":[{"vm":21.3,"norm":0.994,"label":"DRG"},{"vm":21.3,"norm":0.876,"label":"Kv2.1"},{"vm":21.3,"norm":0.753,"label":"Kv4.2"},{"vm":21.3,"norm":0.642,"label":"Kv2.1/Kv9.3"}]},"mark":{"type":"text","align":"left","fontSize":10},"encoding":{"text":{"field":"label"}}},
  {"data":{"values":[{"vm":-98.7,"norm":1.155,"label":"H"}]},"mark":{"type":"text","fontSize":15,"fontWeight":"bold"},"encoding":{"text":{"field":"label"}}}
 ]}
]
}
